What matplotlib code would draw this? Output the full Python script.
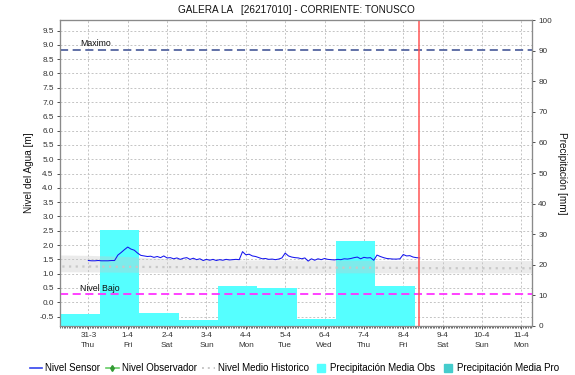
import numpy as np
import pandas as pd
import matplotlib
matplotlib.use("Agg")
import matplotlib.pyplot as plt
import matplotlib.dates as mdates
from matplotlib.lines import Line2D
from matplotlib.ticker import FixedLocator, FormatStrFormatter

plt.rcParams["font.family"] = ["Liberation Sans", "DejaVu Sans"]

# ---------------------------------------------------------------
# Station data
# ---------------------------------------------------------------
TITLE = "GALERA LA   [26217010] - CORRIENTE: TONUSCO"

# level sensor readings every 2 h starting 31-3 00:00 [m]
sensor_start = "2022-03-31 00:00"
sensor_level = [
    1.46, 1.45, 1.45, 1.46, 1.45, 1.45, 1.45, 1.46, 1.46, 1.65,
    1.74, 1.84, 1.93, 1.86, 1.82, 1.72, 1.64, 1.62, 1.60, 1.61,
    1.57, 1.60, 1.56, 1.62, 1.55, 1.56, 1.52, 1.55, 1.50, 1.54,
    1.56, 1.50, 1.54, 1.49, 1.52, 1.46, 1.50, 1.47, 1.50, 1.46,
    1.49, 1.47, 1.50, 1.48, 1.49, 1.50, 1.49, 1.77, 1.66, 1.68,
    1.62, 1.60, 1.56, 1.52, 1.53, 1.50, 1.51, 1.49, 1.51, 1.55,
    1.72, 1.62, 1.58, 1.56, 1.55, 1.52, 1.55, 1.44, 1.52, 1.47,
    1.52, 1.49, 1.53, 1.50, 1.49, 1.48, 1.50, 1.49, 1.52, 1.51,
    1.53, 1.56, 1.58, 1.52, 1.57, 1.55, 1.56, 1.47, 1.65, 1.60,
    1.56, 1.53, 1.52, 1.51, 1.51, 1.52, 1.67, 1.62, 1.63, 1.58,
    1.56, 1.55,
]

# daily precipitation, hydrological day starting 07:00 [mm]
precip_first_day = "2022-03-29 07:00"
precip_obs = [24.0, 4.0, 31.5, 4.25, 2.1, 13.2, 12.4, 2.4, 27.7, 13.0]

# historical mean level with its band [m]
hist_first_day = "2022-03-30"
hist_mean = [1.25, 1.25, 1.24, 1.23, 1.23, 1.22, 1.22, 1.21, 1.21, 1.20, 1.19, 1.19, 1.19, 1.19]
hist_upper = [1.66, 1.64, 1.60, 1.52, 1.49, 1.48, 1.48, 1.47, 1.47, 1.46, 1.46, 1.46, 1.46, 1.46]
hist_lower = [1.07, 1.06, 1.05, 1.04, 1.04, 1.04, 1.03, 1.03, 1.03, 1.03, 1.03, 1.03, 1.03, 1.03]

LEVEL_MAX = 8.83
LEVEL_LOW = 0.28
NOW = "2022-04-08 09:36"

tick_days = pd.date_range("2022-03-31", "2022-04-11", freq="D")
tick_labels = ["31-3\nThu", "1-4\nFri", "2-4\nSat", "3-4\nSun", "4-4\nMon", "5-4\nTue",
               "6-4\nWed", "7-4\nThu", "8-4\nFri", "9-4\nSat", "10-4\nSun", "11-4\nMon"]

# ---------------------------------------------------------------
# Derived series
# ---------------------------------------------------------------
sensor_t = pd.date_range(sensor_start, periods=len(sensor_level), freq="2h")
precip_t = pd.date_range(precip_first_day, periods=len(precip_obs), freq="D")
hist_t = pd.date_range(hist_first_day, periods=len(hist_mean), freq="D")

x0 = pd.Timestamp("2022-03-30 06:43")
x1 = pd.Timestamp("2022-04-11 06:29")

# ---------------------------------------------------------------
# Figure
# ---------------------------------------------------------------
fig = plt.figure(figsize=(5.75, 3.75), dpi=100, facecolor="white")
ax = fig.add_axes([60 / 575, 49 / 375, 472 / 575, 306 / 375])
ax_p = ax.twinx()      # precipitation bars (right scale)
ax_l = ax.twinx()      # level lines drawn on top of the bars

ax.set_zorder(0)
ax_p.set_zorder(1)
ax_l.set_zorder(2)
ax_p.patch.set_visible(False)
ax_l.patch.set_visible(False)

GRID = "#c4c4c4"
SPINE = "#8a8a8a"
TXT = "#333333"

# grid + left scale
ax.set_xlim(x0, x1)
ax.set_ylim(-0.83, 9.87)
ax.yaxis.set_major_locator(FixedLocator(np.arange(-0.5, 9.51, 0.5)))
ax.yaxis.set_major_formatter(FormatStrFormatter("%.1f"))
ax.xaxis.set_major_locator(FixedLocator(mdates.date2num(tick_days)))
ax.set_xticklabels(tick_labels, linespacing=1.5)
ax.xaxis.set_minor_locator(mdates.HourLocator(interval=1))
ax.grid(True, which="major", color=GRID, linestyle=(0, (2, 2)), linewidth=0.7)
ax.tick_params(axis="both", which="major", labelsize=5.9, colors=TXT, length=2.5,
               width=0.6, pad=2)
ax.tick_params(axis="x", which="minor", length=1.5, width=0.5, color="#333333")
ax.set_ylabel("Nivel del Agua [m]", fontsize=7.2, color="#111111", labelpad=4)
ax.set_title(TITLE, fontsize=7.2, color="#111111", pad=5)

# precipitation
ax_p.bar(precip_t, precip_obs, width=1.0, align="edge", color="#55ffff",
         edgecolor="none", zorder=1)
ax_p.set_ylim(0, 100)
ax_p.set_xlim(x0, x1)
ax_p.set_yticks(np.arange(0, 101, 10))
ax_p.tick_params(axis="y", labelsize=5.9, colors=TXT, length=2.5, width=0.6, pad=2)
ax_p.set_ylabel("Precipitación [mm]", fontsize=7.2, color="#111111",
                rotation=270, labelpad=11)

# level lines
ax_l.set_ylim(ax.get_ylim())
ax_l.set_xlim(x0, x1)
ax_l.set_yticks([])
ax_l.fill_between(hist_t, hist_lower, hist_upper, color="#c8c8c8", alpha=0.35,
                  linewidth=0)
ax_l.plot(hist_t, hist_mean, color="#c8c8c8", linewidth=1.6, linestyle=(0, (1, 2)))
ax_l.plot(sensor_t, sensor_level, color="#1515ee", linewidth=0.75)
ax_l.axhline(LEVEL_MAX, color="#5566a0", linewidth=1.3, linestyle=(0, (4.5, 2.5)))
ax_l.axhline(LEVEL_LOW, color="#ff33ff", linewidth=1.3, linestyle=(0, (4.5, 2.5)))
ax_l.axvline(pd.Timestamp(NOW), color="#ff5555", linewidth=1.1)
ax_l.text(pd.Timestamp("2022-03-30 19:00"), LEVEL_MAX + 0.06, "Maximo",
          fontsize=6.3, color="#111111", va="bottom")
ax_l.text(pd.Timestamp("2022-03-30 19:00"), LEVEL_LOW + 0.06, "Nivel Bajo",
          fontsize=6.3, color="#111111", va="bottom")

for a in (ax, ax_p, ax_l):
    for s in a.spines.values():
        s.set_color(SPINE)
        s.set_linewidth(0.8)

# legend
handles = [
    Line2D([], [], color="#3344ee", linewidth=1.2),
    Line2D([], [], color="#66cc66", linewidth=1.2, marker="d", markersize=3,
           markerfacecolor="#339933", markeredgecolor="#339933"),
    Line2D([], [], color="#c8c8c8", linewidth=1.4, linestyle=(0, (1, 2))),
    Line2D([], [], color="#55ffff", marker="s", markersize=6, linestyle="none"),
    Line2D([], [], color="#44cccc", marker="s", markersize=6, linestyle="none"),
]
labels = ["Nivel Sensor", "Nivel Observador", "Nivel Medio Historico",
          "Precipitación Media Obs", "Precipitación Media Pro"]
fig.legend(handles, labels, loc="center", bbox_to_anchor=(0.512, 0.018), ncol=5,
           frameon=False, fontsize=7.0, handlelength=1.3, handletextpad=0.3,
           columnspacing=0.6, borderpad=0.1)

fig.savefig("out.png", dpi=100, facecolor="white")
